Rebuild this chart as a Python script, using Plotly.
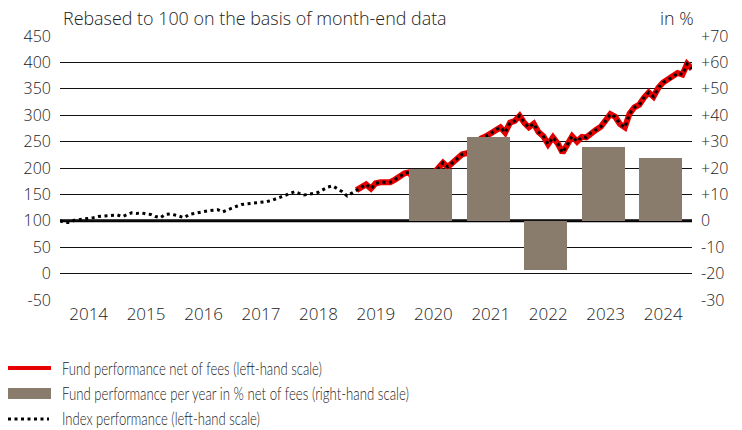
import plotly.graph_objects as go
import pandas as pd

# ---------------- data ----------------
# Month-end index values (rebased to 100), Dec 2013 .. Dec 2024
index_values = [
    100, 97, 97, 101, 102, 103, 105, 106, 108, 109, 110, 111,          # Dec13-Nov14
    111, 108, 112, 115, 114, 115, 113, 112, 108, 106, 112, 113,        # Dec14-Nov15
    111, 108, 106, 112, 114, 115, 117, 119, 120, 121, 117, 121,        # Dec15-Nov16
    125, 128, 131, 132, 132, 133, 134, 136, 138, 141, 144, 148,        # Dec16-Nov17
    152, 155, 152, 149, 150, 152, 154, 159, 164, 166, 160, 155,        # Dec17-Nov18
    147, 153, 158, 163, 169, 161, 171, 173, 173, 173, 178, 184,        # Dec18-Nov19
    190, 192, 178, 158, 172, 183, 189, 199, 210, 202, 210, 219,        # Dec19-Nov20
    226, 228, 232, 246, 256, 260, 265, 272, 277, 267, 286, 289,        # Dec20-Nov21
    299, 285, 277, 284, 268, 260, 245, 258, 246, 229, 245, 260,        # Dec21-Nov22
    250, 259, 258, 267, 272, 278, 289, 302, 297, 283, 277, 303,        # Dec22-Nov23
    315, 320, 333, 343, 335, 352, 362, 367, 372, 380, 377, 397,        # Dec23-Nov24
    388,                                                               # Dec24
]
fund_start_index = 62  # fund series begins in Feb 2019 (same path as index)

bar_years = [2020, 2021, 2022, 2023, 2024]
bar_values = [19.6, 31.8, -18.8, 27.8, 23.9]

left_ticks = [-50, 0, 50, 100, 150, 200, 250, 300, 350, 400, 450]
right_ticks = [-30, -20, -10, 0, 10, 20, 30, 40, 50, 60, 70]
year_labels = list(range(2014, 2025))

title_text = "Rebased to 100 on the basis of month-end data"
unit_text = "in %"
legend_labels = [
    "Fund performance net of fees (left-hand scale)",
    "Fund performance per year in % net of fees (right-hand scale)",
    "Index performance (left-hand scale)",
]

# ---------------- styling ----------------
RED = "#e60000"
BROWN = "#8a7c6d"
FONT = "Open Sans"
NARROW = "Lato"
TXT = "#222"
WEIGHT = 300
W, H = 742, 430
L, R, T, B = 60, 50, 36, 130
PW, PH = W - L - R, H - T - B
LEGEND_TEXT_WIDTHS = [260, 347, 198]  # condensed look of the legend texts (px)

dates = pd.date_range("2013-12-31", periods=len(index_values), freq="ME")
fund_dates = dates[fund_start_index:]
fund_values = index_values[fund_start_index:]

bar_x = [pd.Timestamp(f"{y}-06-15") for y in bar_years]
bar_width_ms = 273 * 24 * 3600 * 1000


def px_x(x):
    return (x - L) / PW


def px_y(y):
    return (H - B - y) / PH


fig = go.Figure()

fig.add_trace(go.Bar(
    x=bar_x, y=bar_values, yaxis="y2", width=[bar_width_ms] * len(bar_x),
    marker=dict(color=BROWN, line=dict(width=0)), showlegend=False,
    hoverinfo="skip",
))
fig.add_trace(go.Scatter(
    x=fund_dates, y=fund_values, mode="lines",
    line=dict(color=RED, width=6), showlegend=False,
))
fig.add_trace(go.Scatter(
    x=dates, y=index_values, mode="lines",
    line=dict(color="black", width=3, dash="3px,3.5px"), showlegend=False,
))

shapes = [
    dict(type="line", xref="paper", x0=0, x1=1, yref="y", y0=100, y1=100,
         line=dict(color="black", width=3), layer="between"),
    # legend symbols
    dict(type="line", xref="paper", yref="paper", x0=px_x(8), x1=px_x(51),
         y0=px_y(368), y1=px_y(368), line=dict(color=RED, width=4)),
    dict(type="rect", xref="paper", yref="paper", x0=px_x(8), x1=px_x(51),
         y0=px_y(388), y1=px_y(399), fillcolor=BROWN, line=dict(width=0)),
    dict(type="line", xref="paper", yref="paper", x0=px_x(8), x1=px_x(49),
         y0=px_y(419), y1=px_y(419),
         line=dict(color="black", width=3, dash="3px,3.5px")),
]

annotations = [
    dict(text=title_text, xref="paper", yref="paper", x=px_x(61), y=px_y(18),
         xanchor="left", yanchor="middle", showarrow=False,
         font=dict(family=FONT, size=17.9, color=TXT, weight=WEIGHT)),
    dict(text=unit_text, xref="paper", yref="paper", x=px_x(696), y=px_y(18),
         xanchor="right", yanchor="middle", showarrow=False,
         font=dict(family=FONT, size=17.9, color=TXT, weight=WEIGHT)),
]
for i, lab in enumerate(legend_labels):
    annotations.append(dict(
        text=lab, xref="paper", yref="paper", x=px_x(60), y=px_y(368 + 25 * i),
        xanchor="left", yanchor="middle", align="left", showarrow=False,
        font=dict(family=NARROW, size=17, color=TXT, weight=WEIGHT)))

fig.update_layout(
    width=W, height=H, margin=dict(l=L, r=R, t=T, b=B, autoexpand=False),
    paper_bgcolor="white", plot_bgcolor="white",
    font=dict(family=FONT, size=16, color=TXT, weight=WEIGHT),
    bargap=0, showlegend=False,
    xaxis=dict(
        type="date", range=["2013-12-31", "2024-12-31"],
        tickvals=[pd.Timestamp(f"{y}-07-01") for y in year_labels],
        ticktext=[str(y) for y in year_labels],
        showgrid=False, zeroline=False, showline=False, ticks="",
        tickfont=dict(size=17, weight=WEIGHT), automargin=False,
        ticklabelstandoff=2,
    ),
    yaxis=dict(
        range=[-50, 450], tickvals=left_ticks, ticktext=[str(v) for v in left_ticks],
        showgrid=True, gridcolor="#111", gridwidth=1, zeroline=False,
        showline=False, ticks="", ticklabelstandoff=8, automargin=False,
        tickfont=dict(weight=WEIGHT),
    ),
    yaxis2=dict(
        range=[-30, 70], overlaying="y", side="right", tickvals=right_ticks,
        ticktext=[("+" + str(v)) if v > 0 else str(v) for v in right_ticks],
        showgrid=False, zeroline=False, showline=False, ticks="",
        ticklabelstandoff=8, automargin=False, tickfont=dict(weight=WEIGHT),
    ),
    shapes=shapes, annotations=annotations,
)

widths_js = "{" + ",".join(
    '"%s":%d' % (lab, w) for lab, w in zip(legend_labels, LEGEND_TEXT_WIDTHS)) + "}"
post = """
document.body.style.margin='0';
var widths = %s;
document.querySelectorAll('text.annotation-text').forEach(function(t){
  var w = widths[t.textContent];
  if (w) { t.setAttribute('textLength', w); t.setAttribute('lengthAdjust', 'spacingAndGlyphs'); }
});
""" % widths_js

fig.write_html("out.html", post_script=post, config={"displayModeBar": False})
